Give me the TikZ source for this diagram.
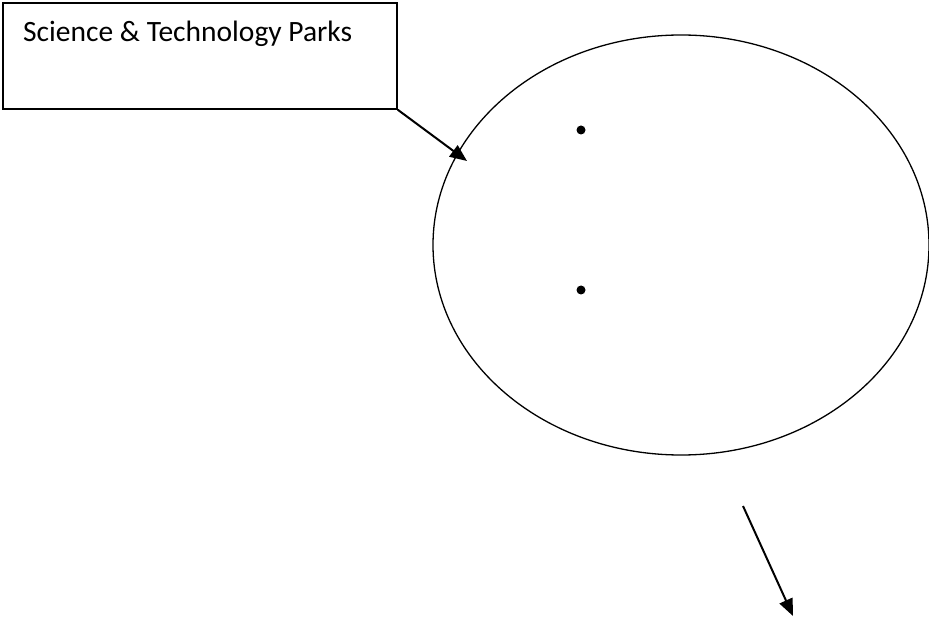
\documentclass[tikz,border=0pt]{standalone}
\usepackage{fontspec}
\setmainfont{Carlito}
\usetikzlibrary{arrows.meta,shapes.geometric}
\begin{document}
\begin{tikzpicture}[x=1pt,y=-1pt,
  boxstyle/.style={draw,line width=1.5pt,minimum width=394pt,minimum height=106pt,inner sep=0pt},
  ovalstyle/.style={draw,ellipse,line width=1.3pt,minimum width=496pt,minimum height=420pt,inner sep=0pt},
  bullet/.style={circle,fill=black,inner sep=0pt,minimum size=9pt},
  conn/.style={line width=2pt,-{Triangle[length=17pt,width=14pt]}},
  lbl/.style={font=\fontsize{29.5}{34}\selectfont,inner sep=0pt}]
\useasboundingbox (0,0) rectangle (929,617);
\node[boxstyle] (box) at (200,56) {};
\node[lbl,anchor=base west] (title) at (23,42) {Science \& Technology Parks};
\node[ovalstyle] (oval) at (681,245) {};
\node[bullet] (d1) at (581,130) {};
\node[bullet] (d2) at (581,290) {};
\coordinate (hit) at (467,161);
\coordinate (outA) at (743,506);
\coordinate (outB) at (793,616);
\draw[conn] (box.south east) -- (hit);
\draw[conn] (outA) -- (outB);
\end{tikzpicture}
\end{document}
